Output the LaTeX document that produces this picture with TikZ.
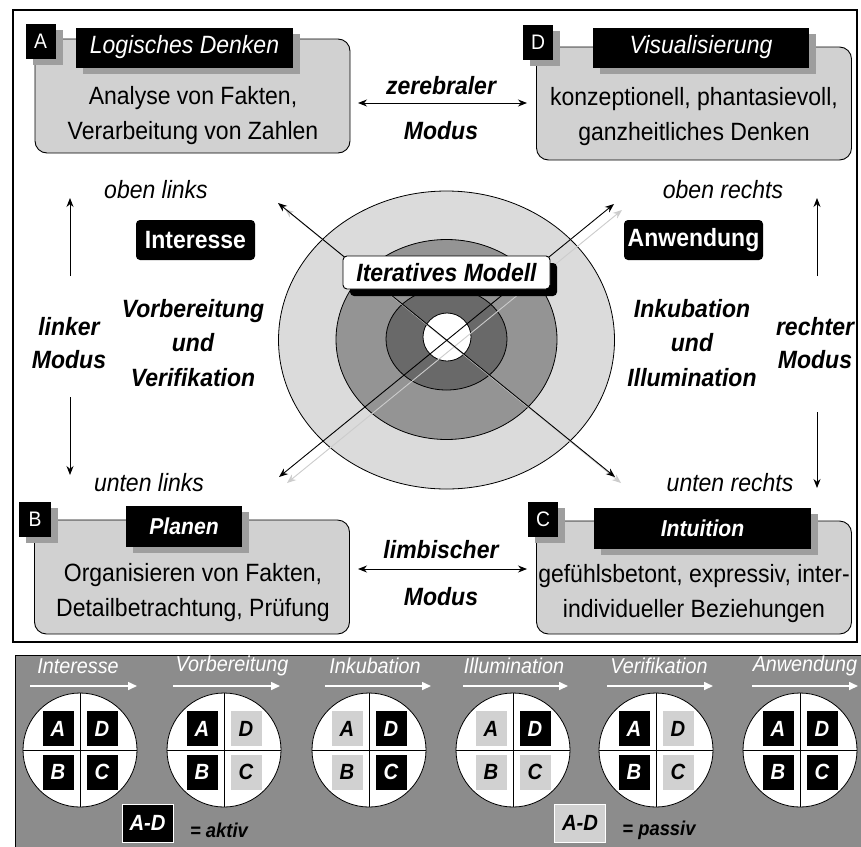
\documentclass[tikz,border=0pt]{standalone}
\usepackage{fontspec}
\setmainfont[FakeStretch=0.92]{Liberation Sans}
\usetikzlibrary{arrows.meta,shadows}
\definecolor{boxgray}{gray}{0.82}
\definecolor{shadowgray}{gray}{0.62}
\definecolor{ringa}{gray}{0.86}
\definecolor{ringb}{gray}{0.58}
\definecolor{ringc}{gray}{0.41}
\definecolor{stripgray}{gray}{0.55}
\definecolor{passgray}{gray}{0.82}
\definecolor{arrgray}{gray}{0.8}
\newcommand\fsz[2]{\fontsize{#1}{#2}\selectfont}
\begin{document}
\begin{tikzpicture}[x=1pt,y=-1pt,
  every node/.style={inner sep=0pt,outer sep=0pt},
  shd/.style={drop shadow={shadow xshift=7pt,shadow yshift=-6pt,fill=shadowgray,opacity=1}},
  quad/.style={draw=black,line width=0.9pt,fill=boxgray,rounded corners=12pt,minimum width=315pt,minimum height=114pt},
  lab/.style={shd,fill=black,text=white,minimum width=30pt,minimum height=35pt,font=\fsz{21}{24}},
  ttl/.style={shd,fill=black,text=white,minimum height=40pt,font=\fsz{25}{30}\itshape},
  ttlb/.style={shd,fill=black,text=white,minimum height=41pt,font=\fsz{23}{30}\bfseries\itshape},
  body/.style={align=center,font=\fsz{25}{35}},
  bi/.style={align=center,font=\fsz{25}{34.5}\bfseries\itshape},
  itl/.style={font=\fsz{25}{30}\itshape},
  blk/.style={fill=black,text=white,rounded corners=4pt,minimum height=40pt,font=\fsz{25}{30}\bfseries},
  arr/.style={line width=0.9pt,{Stealth[length=9pt,width=7pt]}-{Stealth[length=9pt,width=7pt]}},
  sarr/.style={line width=0.9pt,-{Stealth[length=9pt,width=7pt]}},
  warr/.style={draw=white,line width=1.6pt,-{Triangle[length=9pt,width=8pt]}},
  hdr/.style={text=white,font=\fsz{21.5}{25}\itshape},
  disc/.style={circle,draw=black,fill=white,minimum size=114pt,line width=0.8pt},
  sqbase/.style={minimum width=31pt,minimum height=35pt,font=\fsz{22}{24}\bfseries\itshape},
  sq1/.style={sqbase,fill=black,text=white},
  sq0/.style={sqbase,fill=passgray,text=black},
  lgd/.style={draw=white,line width=1pt,minimum width=51pt,minimum height=38pt,font=\fsz{22}{24}\bfseries\itshape},
  lgt/.style={font=\fsz{20}{24}\bfseries\itshape}
]
\useasboundingbox (0,0) rectangle (861,846);
\fill[white] (0,0) rectangle (861,846);
\draw[line width=1.5pt] (13,10) rectangle (857,642);

% quadrant boxes
\node[quad] (boxA) at (192.5,96) {};
\node[quad,minimum height=113pt] (boxD) at (694,103.5) {};
\node[quad] (boxB) at (192,577) {};
\node[quad,minimum height=113pt] (boxC) at (694,577.5) {};

\node[lab] (labA) at (40.5,41) {A};
\node[ttl,minimum width=217pt] (ttlA) at (184.5,47.5) {Logisches Denken};
\node[body] (txtA) at (193,116) {Analyse von Fakten,\\Verarbeitung von Zahlen};

\node[lab] (labD) at (538,42.5) {D};
\node[ttl,minimum width=216pt] (ttlD) at (701,47.5) {Visualisierung};
\node[body] (txtD) at (694,117) {konzeptionell, phantasievoll,\\ganzheitliches Denken};

\node[lab,minimum width=32pt] (labB) at (35,519.5) {B};
\node[ttlb,minimum width=116pt] (ttlB) at (184,526.5) {Planen};
\node[body] (txtB) at (193,593) {Organisieren von Fakten,\\Detailbetrachtung, Prüfung};

\node[lab] (labC) at (543,519.5) {C};
\node[ttlb,minimum width=217pt] (ttlC) at (702.5,528.5) {Intuition};
\node[body] (txtC) at (694,594) {gefühlsbetont, expressiv, inter-\\individueller Beziehungen};

% modes between boxes
\coordinate (zl) at (358,103); \coordinate (zr) at (527,103);
\draw[arr] (zl) -- (zr);
\node[bi] (zer) at (441,86) {zerebraler};
\node[bi] (zmod) at (441,131) {Modus};
\coordinate (ll) at (358,569); \coordinate (lr) at (527,569);
\draw[arr] (ll) -- (lr);
\node[bi] (lim) at (441,550) {limbischer};
\node[bi] (lmod) at (441,597) {Modus};

% side arrows
\coordinate (lu1) at (70,276); \coordinate (lu2) at (70,198);
\coordinate (ld1) at (70,397); \coordinate (ld2) at (70,475);
\coordinate (ru1) at (817,276); \coordinate (ru2) at (817,198);
\coordinate (rd1) at (817,412); \coordinate (rd2) at (817,488);
\draw[sarr] (lu1) -- (lu2);
\draw[sarr] (ld1) -- (ld2);
\draw[sarr] (ru1) -- (ru2);
\draw[sarr] (rd1) -- (rd2);

\node[itl] (ol) at (156,190) {oben links};
\node[itl] (orr) at (723,190) {oben rechts};
\node[itl] (ul) at (149,483) {unten links};
\node[itl] (ur) at (730,483) {unten rechts};
\node[bi,font=\fsz{25}{33}\bfseries\itshape] (lm) at (69,343.5) {linker\\Modus};
\node[bi,font=\fsz{25}{33}\bfseries\itshape] (rm) at (815,343.5) {rechter\\Modus};
\node[bi] (vv) at (193,343) {Vorbereitung\\und\\Verifikation};
\node[bi] (ii) at (692,343) {Inkubation\\und\\Illumination};

\node[blk,minimum width=119pt] (inter) at (195.5,240) {Interesse};
\node[blk,minimum width=139pt] (anw) at (693.5,240) {Anwendung};

% rings
\draw[fill=ringa,line width=0.8pt] (446.5,340) ellipse [x radius=168, y radius=149];
\draw[fill=ringb,line width=0.8pt] (446.5,339.5) ellipse [x radius=110.5, y radius=100];
\draw[fill=ringc,line width=0.8pt] (446.5,339) ellipse [x radius=60.5, y radius=51];
\draw[fill=white,line width=0.8pt] (447,337) ellipse [x radius=24, y radius=24];

% diagonal arrows
\coordinate (nw) at (278,203); \coordinate (se) at (615,477);
\coordinate (sw) at (279,477); \coordinate (ne) at (614,204);
\coordinate (nw2) at (285,209); \coordinate (se2) at (621,483);
\coordinate (sw2) at (287,483); \coordinate (ne2) at (622,210);
\draw[arr,draw=arrgray] (nw2) -- (se2);
\draw[arr,draw=arrgray] (sw2) -- (ne2);
\draw[arr] (nw) -- (se);
\draw[arr] (sw) -- (ne);

\node[draw=black,fill=white,line width=0.9pt,rounded corners=4pt,minimum width=207pt,minimum height=33pt,
      drop shadow={shadow xshift=7pt,shadow yshift=-7pt,fill=black,opacity=1},
      font=\fsz{25}{30}\bfseries\itshape] (iter) at (446.5,272.5) {Iteratives Modell};

% bottom strip
\draw[fill=stripgray,line width=1pt] (15,655) rectangle (870,860);
\foreach \i/\cx/\hx/\ax/\bx/\hd/\pa/\pd/\pb/\pc in {
 1/80/78/30/137/Interesse/1/1/1/1,
 2/224/232/173/280/Vorbereitung/1/0/1/0,
 3/369/375/325/431/Inkubation/0/1/0/1,
 4/513/514/463/568/Illumination/0/1/0/0,
 5/656/659/607/713/Verifikation/1/0/1/0,
 6/800/805/752/858/Anwendung/1/1/1/1}{
  \node[hdr] (h\i) at (\hx,666) {\hd};
  \coordinate (ha\i) at (\ax,686);
  \coordinate (hb\i) at (\bx,686);
  \draw[warr] (ha\i) -- (hb\i);
  \node[disc] (c\i) at (\cx,750) {};
  \draw[line width=0.8pt] (c\i.north) -- (c\i.south);
  \draw[line width=0.8pt] (c\i.west) -- (c\i.east);
  \node[sq\pa] (c\i-A) at (\cx-22,728.5) {A};
  \node[sq\pd] (c\i-D) at (\cx+22,728.5) {D};
  \node[sq\pb] (c\i-B) at (\cx-22,772) {B};
  \node[sq\pc] (c\i-C) at (\cx+22,772) {C};
}
\node[lgd,fill=black,text=white] (la) at (147.5,823) {A-D};
\node[lgt] (lat) at (219,830) {= aktiv};
\node[lgd,fill=passgray,text=black] (lp) at (580,823) {A-D};
\node[lgt] (lpt) at (659,830) {= passiv};
\end{tikzpicture}
\end{document}
